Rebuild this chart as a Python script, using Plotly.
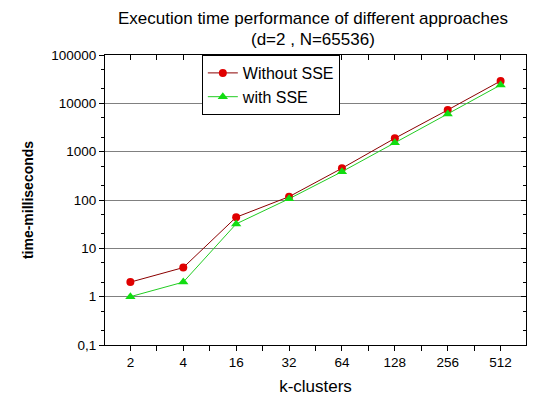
import plotly.graph_objects as go

k_labels = ["2", "4", "16", "32", "64", "128", "256", "512"]
without_sse = [2, 4, 44, 117, 453, 1890, 7300, 29000]
with_sse = [1, 2, 32, 106, 385, 1535, 6030, 24000]
y_tickvals = [0.1, 1, 10, 100, 1000, 10000, 100000]
y_ticktext = ["0,1", "1", "10", "100", "1000", "10000", "100000"]
title_lines = ["Execution time performance of different approaches", "(d=2 , N=65536)"]

idx = list(range(len(k_labels)))
# major ticks at the categories, plain ticks half way between them
x_tickvals = [i / 2 for i in range(0, 15)]
x_ticktext = [k_labels[int(v)] if v == int(v) else "" for v in x_tickvals]

fig = go.Figure()
fig.add_trace(go.Scatter(
    x=idx, y=without_sse, name="Without SSE", mode="lines+markers",
    line=dict(color="#8b0000", width=1),
    marker=dict(symbol="circle", size=8, color="#e00000"),
))
fig.add_trace(go.Scatter(
    x=idx, y=with_sse, name="with SSE", mode="lines+markers",
    line=dict(color="#22cc22", width=1),
    marker=dict(symbol="triangle-up", size=9, color="#11dd11"),
))
# empty trace so the top/right tick axes get drawn
fig.add_trace(go.Scatter(x=[None], y=[None], xaxis="x2", yaxis="y2",
                         showlegend=False, hoverinfo="skip"))

# page body has an 8px margin, so margins are shifted to compensate
fig.update_layout(
    width=555, height=405,
    margin=dict(l=97, r=37, t=47, b=68, autoexpand=False),
    paper_bgcolor="white", plot_bgcolor="white",
    font=dict(family="Liberation Sans, Arial, sans-serif", size=13.5, color="black"),
    showlegend=True,
    legend=dict(
        x=0.23, y=1.0, xanchor="left", yanchor="top",
        bordercolor="black", borderwidth=1, bgcolor="white",
        font=dict(size=16), tracegroupgap=0,
    ),
)
fig.add_annotation(text=title_lines[0], xref="paper", yref="paper", x=0.494, y=1.125,
                   xanchor="center", yanchor="middle", showarrow=False, font=dict(size=17))
fig.add_annotation(text=title_lines[1], xref="paper", yref="paper", x=0.494, y=1.052,
                   xanchor="center", yanchor="middle", showarrow=False, font=dict(size=17))

fig.update_layout(
    xaxis=dict(
        range=[-0.48, 7.48], automargin=False,
        tickmode="array", tickvals=x_tickvals, ticktext=x_ticktext,
        ticks="outside", ticklen=5, tickcolor="black",
        showline=True, linecolor="black", linewidth=1, mirror=True,
        showgrid=False, zeroline=False,
        title=dict(text="k-clusters", font=dict(size=17), standoff=10),
    ),
    yaxis=dict(
        type="log", range=[-1, 5], automargin=False,
        tickmode="array", tickvals=y_tickvals, ticktext=y_ticktext,
        ticks="outside", ticklen=5, tickcolor="black",
        minor=dict(ticks="outside", ticklen=3, tickcolor="black", showgrid=False),
        showline=True, linecolor="black", linewidth=1, mirror=True,
        showgrid=True, gridcolor="#808080", gridwidth=1,
        title=dict(text="<b>time-milliseconds</b>", font=dict(size=14), standoff=14),
    ),
    xaxis2=dict(
        overlaying="x", side="top", range=[-0.48, 7.48], automargin=False,
        tickmode="array", tickvals=x_tickvals, showticklabels=False,
        ticks="inside", ticklen=5, tickcolor="black",
        showgrid=False, zeroline=False, showline=False,
    ),
    yaxis2=dict(
        overlaying="y", side="right", type="log", range=[-1, 5], automargin=False,
        tickmode="array", tickvals=y_tickvals, showticklabels=False,
        ticks="inside", ticklen=5, tickcolor="black",
        minor=dict(ticks="inside", ticklen=3, tickcolor="black", showgrid=False),
        showgrid=False, zeroline=False, showline=False,
    ),
)

fig.write_html("out.html")
